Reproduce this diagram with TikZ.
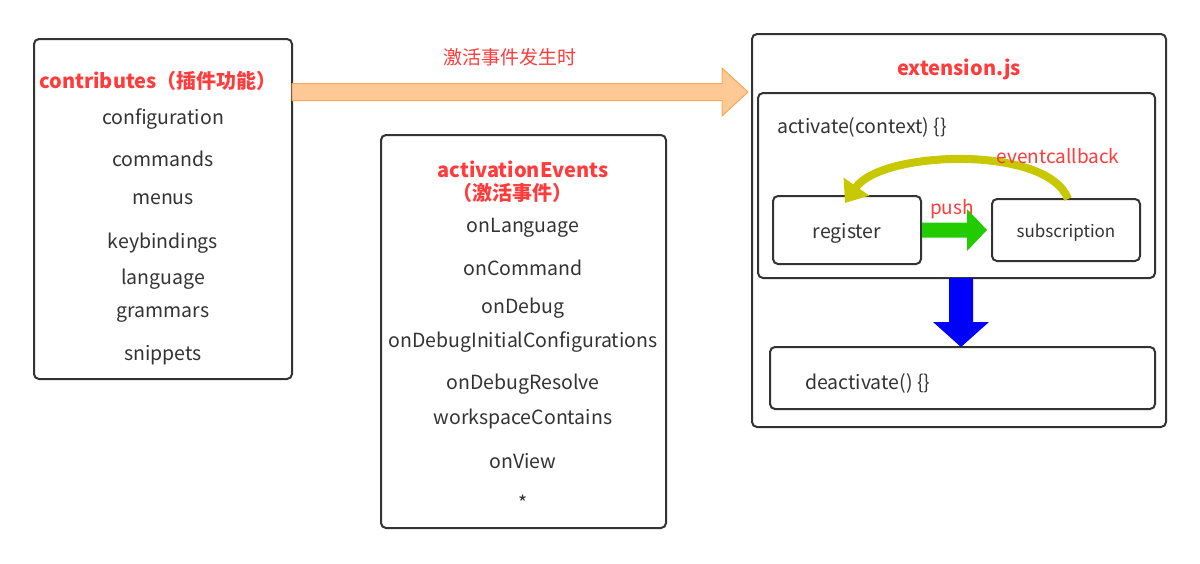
\documentclass[tikz,border=0pt]{standalone}
\usepackage{fontspec}
\setmainfont{Noto Sans CJK SC}
\usetikzlibrary{arrows.meta,calc}
\definecolor{txt}{HTML}{333333}
\definecolor{ttl}{HTML}{FF3B3B}
\definecolor{bord}{HTML}{333333}
\definecolor{orgfill}{HTML}{FFC995}
\definecolor{orgline}{HTML}{F7A95A}
\definecolor{grn}{HTML}{22CC00}
\definecolor{olive}{HTML}{C8C800}
\tikzset{
  box/.style={draw=bord, line width=2pt, rounded corners=5pt, fill=white},
  item/.style={text=txt, font=\fontsize{19.5}{22}\selectfont, inner sep=0pt},
  title/.style={text=ttl, font=\fontsize{20}{24}\selectfont\bfseries, inner sep=0pt},
  lbl/.style={text=ttl, font=\fontsize{19}{22}\selectfont, inner sep=0pt}
}
\begin{document}
\begin{tikzpicture}[x=1pt,y=-1pt]
\useasboundingbox (0,0) rectangle (1200,563);
% boxes
\draw[box] (34,39) rectangle (292,379);
\coordinate (contribE) at (292,92);
\draw[box] (381,135) rectangle (666,528);
\draw[box] (752,34) rectangle (1166,427);
\coordinate (extW) at (748,92);
\draw[box] (758,93) rectangle (1155,278);
\node[box, minimum width=148pt, minimum height=68pt] (reg) at (847,230) {};
\node[box, minimum width=148pt, minimum height=62pt] (sub) at (1066,230) {};
\draw[box] (770,347) rectangle (1155,409);
\coordinate (actS) at (961,278);
\coordinate (deaN) at (961,347);

% left box
\node[title] (ctitle) at (158,81) {contributes（插件功能）};
\foreach \t/\y [count=\i] in {configuration/119,commands/159,menus/199,keybindings/243,language/279,grammars/315,snippets/355}
  \node[item] (c\i) at (163,\y) {\t};

% middle box
\node[title] (atitle) at (523,169) {activationEvents};
\node[title] (atitle2) at (512,193) {（激活事件）};
\foreach \t/\y [count=\i] in {onLanguage/228,onCommand/268,onDebug/308,onDebugInitialConfigurations/342,onDebugResolve/384,workspaceContains/419,onView/461,*/503}
  \node[item] (a\i) at (523,\y) {\t};

% right box
\node[title] (etitle) at (959,69) {extension.js};
\node[item, anchor=west] (act) at (777,127) {activate(context) \{\}};
\node[item] (regt) at ($(reg.center)+(0,3)$) {register};
\node[item, font=\fontsize{17}{20}\selectfont] (subt) at ($(sub.center)+(0,3)$) {subscription};
\node[item, anchor=west] (deact) at (805,383) {deactivate() \{\}};

% orange arrow
\fill[orgfill, draw=orgline, line width=1pt, line join=miter]
  ($(contribE)+(0,-8.5)$) -- ($(extW)+(-26,-8.5)$) -- ($(extW)+(-26,-24)$) -- (extW)
  -- ($(extW)+(-26,24)$) -- ($(extW)+(-26,8.5)$) -- ($(contribE)+(0,8.5)$) -- cycle;
\node[lbl] (evt) at (510,57) {激活事件发生时};

% green push arrow
\fill[grn] ($(reg.east)+(0,-7.5)$) -- ($(sub.west)+(-24,-7.5)$) -- ($(sub.west)+(-24,-21)$) -- ($(sub.west)+(-4,0)$)
  -- ($(sub.west)+(-24,21)$) -- ($(sub.west)+(-24,7.5)$) -- ($(reg.east)+(0,7.5)$) -- cycle;
\node[lbl] (push) at (952,209) {push};

% curved eventcallback arrow
\coordinate (cbS) at (1068,199);
\draw[olive, line width=8pt, -{Triangle[length=20pt,width=30pt]}]
  (cbS) .. controls (1048,145) and (882,150) .. (845,203);
\node[lbl] (ecb) at (1058,156) {eventcallback};

% blue arrow
\fill[blue] ($(actS)+(-12,0)$) -- ($(actS)+(12,0)$) -- ($(deaN)+(12,-25)$) -- ($(deaN)+(28,-25)$) -- (deaN)
  -- ($(deaN)+(-28,-25)$) -- ($(deaN)+(-12,-25)$) -- cycle;
\end{tikzpicture}
\end{document}
